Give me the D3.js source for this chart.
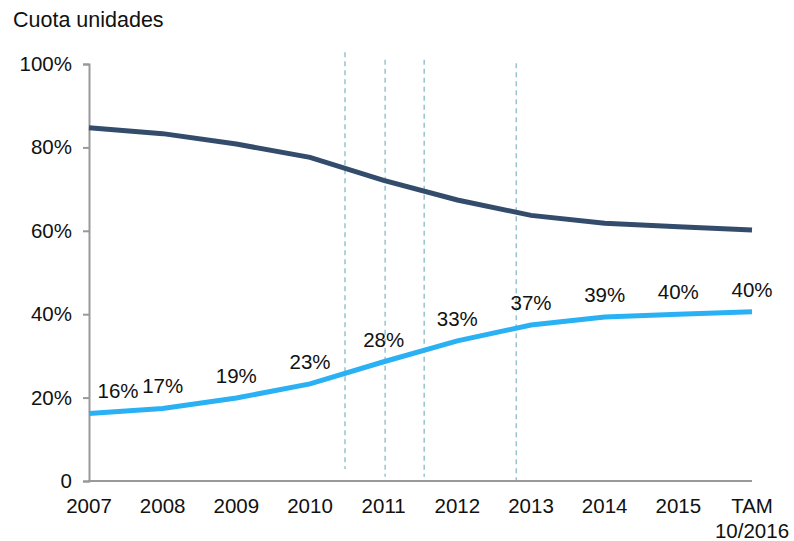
<html>
<script src="https://cdn.jsdelivr.net/npm/d3@7"></script>
<body style="margin:0">
<style>
text { font-family: "Liberation Sans", Arial, sans-serif; fill: #111; }
.dash { stroke: #97c4cd; stroke-width: 1.5; stroke-dasharray: 5 4; }
</style>
<script>
var categories = ["2007", "2008", "2009", "2010", "2011", "2012", "2013", "2014", "2015", "TAM|10/2016"]
var otherShare = [84.7, 83.3, 80.8, 77.6, 72.1, 67.4, 63.7, 61.8, 61.0, 60.2]
var blueShare = [16.2, 17.4, 19.9, 23.3, 28.6, 33.6, 37.4, 39.3, 40.0, 40.6]
var blueLabels = ["16%", "17%", "19%", "23%", "28%", "33%", "37%", "39%", "40%", "40%"]
var yTicks = [0, 20, 40, 60, 80, 100]
var yTickLabels = ["0", "20%", "40%", "60%", "80%", "100%"]
// reference lines, position in category index units, top and bottom in %
var refPos = [3.475, 4.02, 4.55, 5.8]
var refTop = [102.8, 101, 101, 100.2]
var refBottom = [2.9, 1, 1, 0]

var W = 794, H = 541

var svg = d3.select("body").append("svg")
    .attr("width", W)
    .attr("height", H)

var x = d3.scaleLinear()
    .domain([0, categories.length - 1])
    .range([89, 752])

var y = d3.scaleLinear()
    .domain([0, 100])
    .range([481, 64])

svg.append("text")
    .attr("x", 13)
    .attr("y", 27)
    .style("font-size", "21.5px")
    .text("Cuota unidades")

// dashed reference lines
svg.selectAll(".dash")
    .data(refPos)
    .enter().append("line")
    .attr("class", "dash")
    .attr("x1", d => x(d)).attr("x2", d => x(d))
    .attr("y1", (d, i) => y(refTop[i]))
    .attr("y2", (d, i) => y(refBottom[i]))

// y axis
var yAxis = d3.axisLeft(y)
    .tickValues(yTicks)
    .tickSize(6)
    .tickPadding(11)
    .tickFormat((d, i) => yTickLabels[i])

var gy = svg.append("g")
    .attr("transform", "translate(" + x(0) + ",0)")
    .call(yAxis)
gy.select(".domain").attr("stroke", "#999").attr("stroke-width", 2)
gy.selectAll(".tick line").attr("stroke", "#999").attr("stroke-width", 2)
gy.selectAll(".tick text")
    .style("font-size", "20.5px")
    .style("font-family", "Liberation Sans, Arial, sans-serif")
    .attr("fill", "#111")

// x axis line
svg.append("line")
    .attr("x1", x(0) - 1).attr("x2", x(categories.length - 1))
    .attr("y1", y(0)).attr("y2", y(0))
    .attr("stroke", "#999").attr("stroke-width", 2)

var xl = svg.selectAll(".xlab")
    .data(categories)
    .enter().append("text")
    .attr("class", "xlab")
    .attr("text-anchor", "middle")
    .style("font-size", "20.5px")
    .attr("transform", (d, i) => "translate(" + x(i) + "," + (y(0) + 32) + ")")
xl.selectAll("tspan")
    .data(d => d.split("|"))
    .enter().append("tspan")
    .attr("x", 0)
    .attr("dy", (d, i) => i == 0 ? 0 : 25)
    .text(d => d)

var line = d3.line()
    .x((d, i) => x(i))
    .y(d => y(d))

svg.append("path")
    .datum(otherShare)
    .attr("d", line)
    .attr("fill", "none")
    .attr("stroke", "#344c6c")
    .attr("stroke-width", 5)

svg.append("path")
    .datum(blueShare)
    .attr("d", line)
    .attr("fill", "none")
    .attr("stroke", "#2ab1f4")
    .attr("stroke-width", 5)

svg.selectAll(".lab")
    .data(blueShare)
    .enter().append("text")
    .attr("class", "lab")
    .attr("text-anchor", "middle")
    .style("font-size", "20.5px")
    .attr("x", (d, i) => x(i) + (i == 0 ? 29 : 0))
    .attr("y", d => y(d) - 15)
    .text((d, i) => blueLabels[i])
</script>
</body>
</html>
